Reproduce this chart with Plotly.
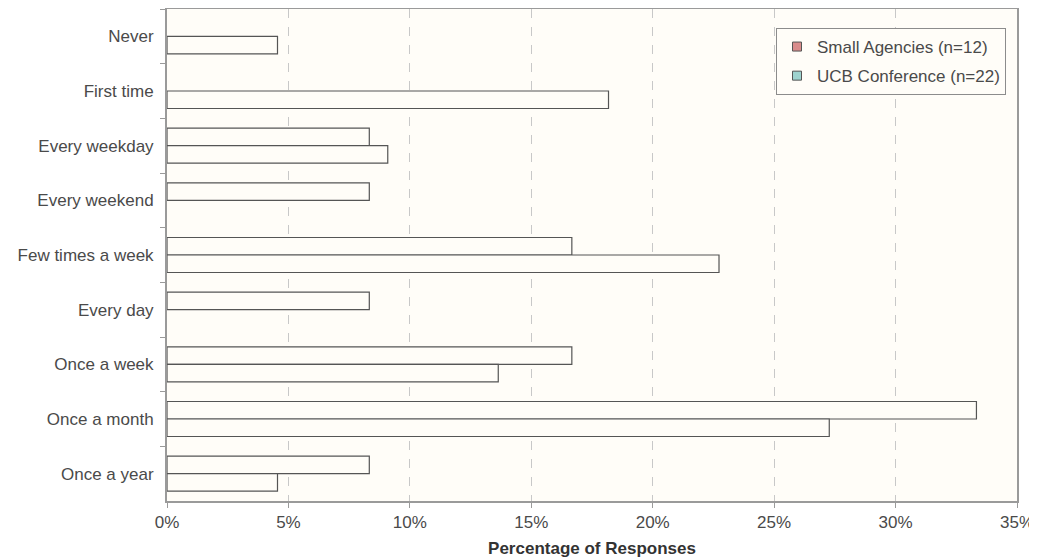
import plotly.graph_objects as go

categories = ["Never", "First time", "Every weekday", "Every weekend",
              "Few times a week", "Every day", "Once a week", "Once a month", "Once a year"]
small_agencies = [0, 0, 8.33, 8.33, 16.67, 8.33, 16.67, 33.33, 8.33]
ucb_conference = [4.55, 18.18, 9.09, 0, 22.73, 0, 13.64, 27.27, 4.55]
series_names = ["Small Agencies (n=12)", "UCB Conference (n=22)"]
legend_colors = ["#D98C8C", "#9ED3CF"]
x_ticks = [0, 5, 10, 15, 20, 25, 30, 35]

BG = "#FFFDF8"
FONT = "Liberation Sans, Arial, sans-serif"

fig = go.Figure()
for name, vals in zip(series_names, [small_agencies, ucb_conference]):
    fig.add_trace(go.Bar(
        y=categories, x=vals, orientation="h", name=name, showlegend=False,
        marker=dict(color=BG, line=dict(color="#555555",
                                        width=[0 if v == 0 else 1.2 for v in vals])),
    ))
for i, (name, col) in enumerate(zip(series_names, legend_colors)):
    fig.add_trace(go.Scatter(
        x=[None], y=[None], mode="markers", name=name, legendgroup=f"g{i}",
        marker=dict(symbol="square", size=9, color=col, line=dict(color="#555", width=1)),
    ))

# page body has an 8px margin, so the figure is offset by (8, 8)
fig.update_layout(
    width=1037, height=560,
    margin=dict(l=159, r=28, t=1, b=67),
    paper_bgcolor="white", plot_bgcolor=BG,
    barmode="group", bargap=0.36, bargroupgap=0,
    font=dict(family=FONT, size=17, color="#4A4A4A"),
    legend=dict(x=1.0 - (1017 - 1006) / 850, y=1.0 - (28 - 9) / 492, xanchor="right", yanchor="top",
                bgcolor=BG, bordercolor="#8C8C8C", borderwidth=1,
                font=dict(size=17, color="#4A4A4A"), tracegroupgap=4,
                itemwidth=30),
    xaxis=dict(
        range=[0, 35], tickvals=x_ticks, ticktext=[f"{v}%" for v in x_ticks],
        showgrid=True, gridcolor="#C8C8C8", griddash="dash", gridwidth=1,
        showline=True, linecolor="#9A9A9A", linewidth=2, mirror=True,
        ticks="outside", ticklen=5, tickcolor="#9A9A9A", zeroline=False,
        automargin=False,
        title=dict(text="<b>Percentage of Responses</b>", standoff=11,
                   font=dict(size=17, color="#333333")),
    ),
    yaxis=dict(
        categoryorder="array", categoryarray=categories, autorange="reversed",
        showline=True, linecolor="#9A9A9A", linewidth=2, mirror=True,
        ticks="outside", ticklen=5, tickcolor="#9A9A9A", tickson="boundaries",
        showgrid=False, ticklabelstandoff=8, automargin=False,
    ),
)

fig.write_html("out.html")
